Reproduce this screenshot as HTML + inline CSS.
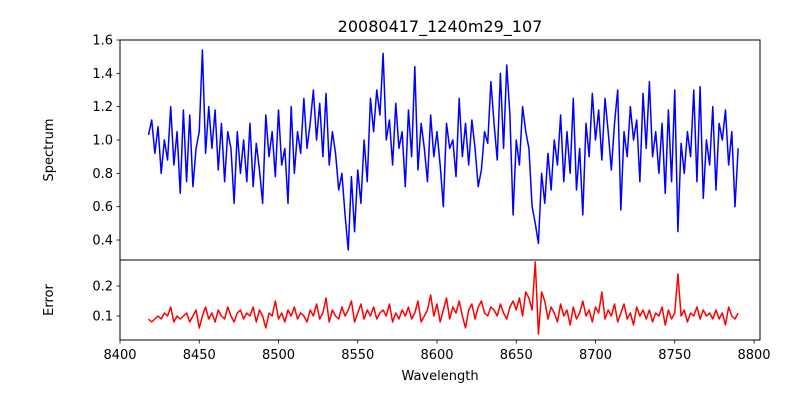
<!DOCTYPE html>
<html><head><meta charset="utf-8"><style>
body{margin:0;background:#fff}
svg{display:block;font-family:"DejaVu Sans","Liberation Sans",sans-serif}
</style></head><body>
<svg id="chart" width="800" height="400" viewBox="0 0 800 400">
<rect width="800" height="400" fill="#fff"/>
<text x="440" y="32" font-size="16" text-anchor="middle">20080417_1240m29_107</text>
<g id="topPanel"></g>
<g id="botPanel"></g>
<text x="440" y="380" font-size="13" text-anchor="middle">Wavelength</text>
<text transform="translate(53,150) rotate(-90)" font-size="13" text-anchor="middle">Spectrum</text>
<text transform="translate(53,300) rotate(-90)" font-size="13" text-anchor="middle">Error</text>
</svg>
<script>
const waveStart = 8418;
const waveStep = 2;
const flux = [
1.03,1.12,0.92,1.08,0.80,1.00,0.88,1.20,0.85,1.05,
0.68,1.18,0.75,1.15,0.72,0.95,1.05,1.54,0.92,1.20,
0.95,1.18,0.82,1.10,0.75,1.05,0.95,0.62,1.05,0.80,
1.00,0.75,1.10,0.72,0.98,0.82,0.62,1.15,0.90,1.05,
0.78,1.18,0.85,0.95,0.62,1.20,0.80,1.05,0.92,1.25,
0.95,1.10,1.30,1.00,1.22,0.90,1.28,0.85,1.05,0.92,
0.70,0.80,0.55,0.34,0.78,0.45,0.82,0.62,1.00,0.75,
1.25,1.05,1.30,1.15,1.52,1.00,1.12,0.85,1.22,0.95,
1.05,0.72,1.18,0.90,1.44,0.82,1.10,0.95,0.75,1.15,
0.90,1.05,0.85,0.60,1.10,0.95,1.00,0.78,1.25,0.90,
1.10,0.85,1.12,0.95,0.72,0.82,1.05,0.98,1.35,1.10,
0.88,1.40,0.95,1.45,1.15,0.55,1.00,0.85,1.20,1.05,
0.95,0.60,0.50,0.38,0.80,0.62,0.92,0.70,1.00,0.85,
1.15,0.75,1.05,0.80,1.25,0.70,0.95,0.55,1.10,0.90,
1.28,1.00,1.18,0.88,1.25,1.05,0.82,1.10,1.30,0.58,
1.05,0.90,1.20,1.00,1.12,0.75,1.28,0.95,1.35,0.90,
1.05,0.80,1.10,0.68,1.18,0.75,1.30,0.45,0.98,0.80,
1.05,0.90,1.30,0.75,1.32,0.65,1.00,0.85,1.20,0.70,
1.10,1.00,1.18,0.85,1.05,0.60,0.95];
const err = [
0.09,0.08,0.09,0.10,0.09,0.11,0.10,0.13,0.08,0.10,
0.09,0.10,0.11,0.08,0.10,0.12,0.06,0.10,0.13,0.09,
0.11,0.08,0.12,0.10,0.09,0.13,0.10,0.08,0.11,0.12,
0.09,0.11,0.10,0.13,0.08,0.12,0.10,0.06,0.11,0.10,
0.15,0.09,0.11,0.08,0.12,0.10,0.13,0.09,0.11,0.10,
0.08,0.12,0.10,0.14,0.09,0.11,0.16,0.08,0.12,0.10,
0.09,0.13,0.10,0.12,0.15,0.08,0.11,0.14,0.09,0.12,
0.10,0.13,0.09,0.11,0.12,0.10,0.14,0.08,0.11,0.09,
0.12,0.10,0.13,0.09,0.11,0.15,0.08,0.10,0.12,0.17,
0.10,0.14,0.08,0.12,0.16,0.09,0.13,0.11,0.15,0.10,
0.06,0.12,0.14,0.09,0.13,0.15,0.11,0.10,0.13,0.12,
0.10,0.14,0.11,0.09,0.13,0.15,0.12,0.16,0.10,0.18,
0.16,0.12,0.28,0.04,0.18,0.15,0.09,0.13,0.11,0.08,
0.14,0.10,0.12,0.07,0.13,0.09,0.11,0.15,0.10,0.12,
0.08,0.13,0.11,0.18,0.09,0.12,0.10,0.14,0.08,0.11,
0.14,0.09,0.11,0.07,0.13,0.10,0.12,0.09,0.12,0.08,
0.11,0.10,0.13,0.07,0.12,0.09,0.11,0.24,0.10,0.12,
0.08,0.11,0.10,0.13,0.09,0.12,0.10,0.11,0.09,0.12,
0.09,0.11,0.07,0.13,0.10,0.09,0.11];
const xTicks = [8400,8450,8500,8550,8600,8650,8700,8750,8800];
const fluxTicks = [0.4,0.6,0.8,1.0,1.2,1.4,1.6];
const errTicks = [0.1,0.2];

const NS='http://www.w3.org/2000/svg';
const L=120,R=760;
const xs=v=>120+(v-8400)*(754-120)/400;
const yTop=v=>240-(v-0.4)*200/1.2;
const yBot=v=>316-(v-0.1)*300;
function mk(tag,attrs,parent){const e=document.createElementNS(NS,tag);for(const k in attrs)e.setAttribute(k,attrs[k]);parent.appendChild(e);return e;}
function panel(g,t0,b0,vals,ys,ticks,color,name,fmt){
  const pts=vals.map((v,i)=>xs(waveStart+i*waveStep).toFixed(2)+','+ys(v).toFixed(2)).join(' ');
  const line=mk('polyline',{points:pts,fill:'none',stroke:color,'stroke-width':1.5,'stroke-linejoin':'round'},g);
  
  
  const frame=mk('rect',{x:L,y:t0,width:R-L,height:b0-t0,fill:'none',stroke:'#000','stroke-width':1},g);
  
  
  ticks.forEach(t=>{
    const y=ys(t);
    mk('line',{x1:L-3.5,x2:L,y1:y,y2:y,stroke:'#000','stroke-width':0.8},g);
    const tx=mk('text',{x:L-7,y:y+4.5,'font-size':13,'text-anchor':'end'},g);
    tx.textContent=fmt(t);
    
    
  });
}
const gTop=document.getElementById('topPanel'),gBot=document.getElementById('botPanel');
panel(gTop,40,260,flux,yTop,fluxTicks,'#0000ff','spectrum-line',t=>t.toFixed(1));
panel(gBot,260,340,err,yBot,errTicks,'#ff0000','error-line',t=>t.toFixed(1));
xTicks.forEach(t=>{
  const x=xs(t);
  mk('line',{x1:x,x2:x,y1:340,y2:343.5,stroke:'#000','stroke-width':0.8},gBot);
  const tx=mk('text',{x:x,y:359,'font-size':13,'text-anchor':'middle'},gBot);
  tx.textContent=t;
  
  
});
</script>
</body></html>
